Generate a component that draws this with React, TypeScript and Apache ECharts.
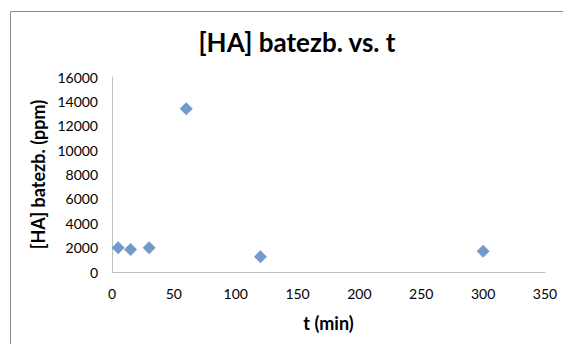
import React, { useEffect, useRef } from "react";
import * as echarts from "echarts";

const tValues = [5, 15, 30, 60, 120, 300];
const haValues = [2000, 1850, 2000, 13400, 1250, 1700];
const titleText = "[HA] batezb. vs. t";
const xTitle = "t (min)";
const yTitle = "[HA] batezb. (ppm)";

export default function App() {
  const ref = useRef<HTMLDivElement>(null);
  useEffect(() => {
    document.body.style.margin = "0";
    const chart = echarts.init(ref.current!, null, { renderer: "svg" });
    const font = "Lato, 'Open Sans', sans-serif";
    chart.setOption({
      animation: false,
      backgroundColor: "#ffffff",
      textStyle: { fontFamily: font },
      title: {
        text: titleText,
        left: 292,
        textAlign: "center",
        top: 24,
        textStyle: { fontFamily: font, fontSize: 26, fontWeight: "bold", color: "#000" },
      },
      graphic: [
        {
          type: "rect",
          shape: { x: 10.5, y: 11.5, width: 700, height: 500 },
          style: { fill: "none", stroke: "#8a8a8a", lineWidth: 1 },
          silent: true,
        },
      ],
      grid: { left: 112, right: 18, top: 77, bottom: 72, containLabel: false },
      xAxis: {
        type: "value",
        min: 0,
        max: 350,
        interval: 50,
        name: xTitle,
        nameLocation: "middle",
        nameGap: 42,
        nameTextStyle: { fontFamily: font, fontSize: 18, fontWeight: "bold", color: "#000" },
        axisLine: { show: true, lineStyle: { color: "#bfbfbf", width: 1 } },
        axisTick: { show: false },
        splitLine: { show: false },
        axisLabel: { fontFamily: font, fontSize: 14, color: "#000", margin: 14 },
      },
      yAxis: {
        type: "value",
        min: 0,
        max: 16000,
        interval: 2000,
        name: yTitle,
        nameLocation: "middle",
        nameGap: 60,
        nameRotate: 90,
        nameTextStyle: { fontFamily: font, fontSize: 18, fontWeight: "bold", color: "#000" },
        axisLine: { show: true, lineStyle: { color: "#bfbfbf", width: 1 } },
        axisTick: { show: false },
        splitLine: { show: false },
        axisLabel: {
          fontFamily: font,
          fontSize: 14,
          color: "#000",
          margin: 14,
          formatter: (v: number) => String(v),
        },
      },
      series: [
        {
          type: "scatter",
          symbol: "diamond",
          symbolSize: 13,
          itemStyle: { color: "#4f81bd" },
          data: tValues.map((t, i) => [t, haValues[i]]),
        },
      ],
    });
    return () => chart.dispose();
  }, []);
  return <div ref={ref} style={{ width: 563, height: 344 }} />;
}
